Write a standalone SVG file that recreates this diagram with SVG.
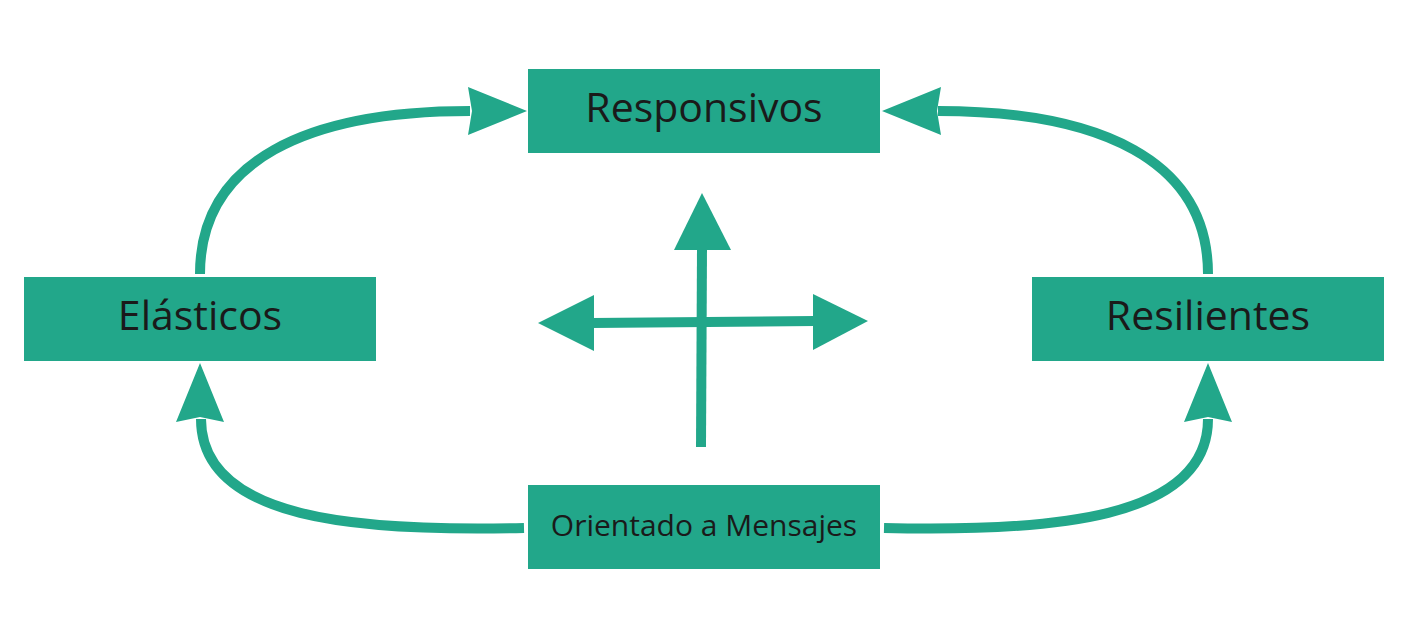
<svg xmlns="http://www.w3.org/2000/svg" width="1408" height="640" viewBox="0 0 1408 640">
  <style>
    .box { fill: #22a78a; }
    .lbl { font-family: "Open Sans", "Noto Sans", "DejaVu Sans", sans-serif; fill: #1a1a1a; text-anchor: middle; }
    .big { font-size: 41px; }
    .small { font-size: 30px; }
    .conn { fill: none; stroke: #22a78a; stroke-width: 10; }
    .head { fill: #22a78a; }
  </style>
  <rect width="1408" height="640" fill="#ffffff"/>
  <g id="connectors">
    <path class="conn" d="M200,274 C200,160 308,111 470,111"/>
    <polygon class="head" points="527,111 468,87 472,111 468,135"/>
    <path class="conn" d="M1208,274 C1208,160 1100,111 938,111"/>
    <polygon class="head" points="882,111 941,87 937,111 941,135"/>
    <path class="conn" d="M524,528 C358,532 201,520 201,419"/>
    <polygon class="head" points="200,363 176,422 200,417 224,422"/>
    <path class="conn" d="M884,528 C1050,532 1208,520 1208,419"/>
    <polygon class="head" points="1208,363 1184,422 1208,417 1232,422"/>
    <path class="conn" d="M701,447 L702,248"/>
    <polygon class="head" points="702,193 674,250 731,250"/>
    <path class="conn" d="M592,323 L815,321"/>
    <polygon class="head" points="538,323 594,295 594,351"/>
    <polygon class="head" points="868,321 813,294 813,350"/>
  </g>
  <g id="node-responsivos">
    <rect class="box" x="528" y="69" width="352" height="84"/>
    <text class="lbl big" x="704" y="122">Responsivos</text>
  </g>
  <g id="node-elasticos">
    <rect class="box" x="24" y="277" width="352" height="84"/>
    <text class="lbl big" x="200" y="330">Elásticos</text>
  </g>
  <g id="node-resilientes">
    <rect class="box" x="1032" y="277" width="352" height="84"/>
    <text class="lbl big" x="1208" y="330">Resilientes</text>
  </g>
  <g id="node-mensajes">
    <rect class="box" x="528" y="485" width="352" height="84"/>
    <text class="lbl small" x="704" y="536">Orientado a Mensajes</text>
  </g>
</svg>
